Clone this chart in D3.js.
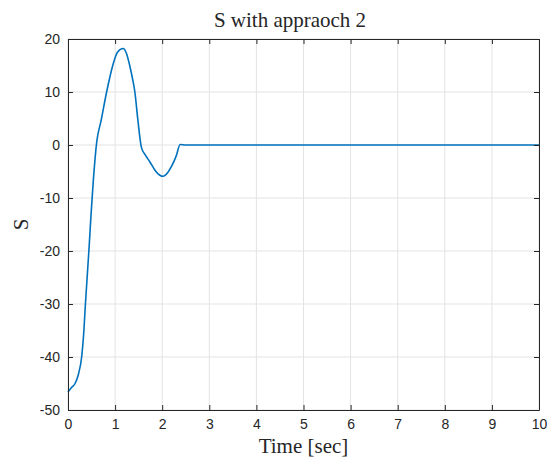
<!DOCTYPE html>
<html>
<head>
<meta charset="utf-8">
<script src="https://cdn.jsdelivr.net/npm/d3@7"></script>
<style>
  body { margin: 0; background: #fff; }
  text { fill: #262626; }
</style>
</head>
<body>
<div id="chart"></div>
<script>
// time axis samples (sec) and S values
var timePts = [0, 0.07, 0.15, 0.22, 0.29, 0.33, 0.37, 0.41, 0.45, 0.49, 0.54, 0.61,
    0.70, 0.82, 0.95, 1.05, 1.17, 1.24, 1.31, 1.37, 1.42, 1.48, 1.56,
    1.65, 1.74, 1.85, 1.95, 2.02, 2.09, 2.2, 2.3, 2.38, 2.5, 10];
var sVals = [-46.6, -45.8, -45.0, -43.3, -40, -36, -30, -24.5, -19, -13, -6.4, 0.6,
    4.5, 10, 15, 17.5, 18.2, 17.3, 15, 12.5, 10, 5, -0.5,
    -2, -3.2, -4.8, -5.7, -5.9, -5.5, -4.0, -2.0, 0.1, 0, 0];
var xTicks = [0, 1, 2, 3, 4, 5, 6, 7, 8, 9, 10];
var yTicks = [-50, -40, -30, -20, -10, 0, 10, 20];

var width = 551, height = 460;
var margin = {top: 39, right: 12, bottom: 50, left: 68};

var svg = d3.select("#chart").append("svg")
    .attr("width", width)
    .attr("height", height);

var x = d3.scaleLinear().domain([0, 10]).range([margin.left, width - margin.right]);
var y = d3.scaleLinear().domain([-50, 20]).range([height - margin.bottom, margin.top]);

// grid
svg.append("g").selectAll("line")
    .data(xTicks).enter().append("line")
    .attr("x1", function(d) { return x(d); })
    .attr("x2", function(d) { return x(d); })
    .attr("y1", y(-50)).attr("y2", y(20))
    .attr("stroke", "#e3e3e3").attr("stroke-width", 1);
svg.append("g").selectAll("line")
    .data(yTicks).enter().append("line")
    .attr("x1", x(0)).attr("x2", x(10))
    .attr("y1", function(d) { return y(d); })
    .attr("y2", function(d) { return y(d); })
    .attr("stroke", "#e3e3e3").attr("stroke-width", 1);

// data line
var line = d3.line()
    .x(function(d, i) { return x(timePts[i]); })
    .y(function(d) { return y(d); })
    .curve(d3.curveMonotoneX);
svg.append("path")
    .datum(sVals)
    .attr("fill", "none")
    .attr("stroke", "#0072BD")
    .attr("stroke-width", 1.6)
    .attr("d", line);

// axes (ticks inside, MATLAB style), plain hyphen for negatives
var fmt = function(d) { return String(d); };
var xAxis = svg.append("g")
    .attr("transform", "translate(0," + y(-50) + ")")
    .call(d3.axisBottom(x).tickValues(xTicks).tickFormat(fmt).tickSizeInner(-5).tickSizeOuter(0).tickPadding(9));
var yAxis = svg.append("g")
    .attr("transform", "translate(" + x(0) + ",0)")
    .call(d3.axisLeft(y).tickValues(yTicks).tickFormat(fmt).tickSizeInner(-5).tickSizeOuter(0).tickPadding(8));
var xTop = svg.append("g")
    .attr("transform", "translate(0," + y(20) + ")")
    .call(d3.axisTop(x).tickValues(xTicks).tickSizeInner(-5).tickSizeOuter(0).tickFormat(""));
var yRight = svg.append("g")
    .attr("transform", "translate(" + x(10) + ",0)")
    .call(d3.axisRight(y).tickValues(yTicks).tickSizeInner(-5).tickSizeOuter(0).tickFormat(""));

[xAxis, yAxis, xTop, yRight].forEach(function(g) {
    g.selectAll("path").attr("stroke", "#262626").attr("stroke-width", 1);
    g.selectAll("line").attr("stroke", "#262626");
    g.selectAll("text")
        .style("font-family", "Liberation Sans, Arial, sans-serif")
        .style("font-size", "14px")
        .attr("fill", "#333");
});

// title and labels
svg.append("text")
    .attr("x", 290)
    .attr("y", 27)
    .attr("text-anchor", "middle")
    .style("font-family", "Liberation Serif, Times New Roman, serif")
    .style("font-size", "21px")
    .text("S with appraoch 2");

svg.append("text")
    .attr("x", (x(0) + x(10)) / 2)
    .attr("y", 453)
    .attr("text-anchor", "middle")
    .style("font-family", "Liberation Serif, Times New Roman, serif")
    .style("font-size", "21px")
    .text("Time [sec]");

svg.append("text")
    .attr("transform", "translate(28," + ((y(-50) + y(20)) / 2) + ") rotate(-90)")
    .attr("text-anchor", "middle")
    .style("font-family", "Liberation Serif, Times New Roman, serif")
    .style("font-size", "21px")
    .text("S");
</script>
</body>
</html>
